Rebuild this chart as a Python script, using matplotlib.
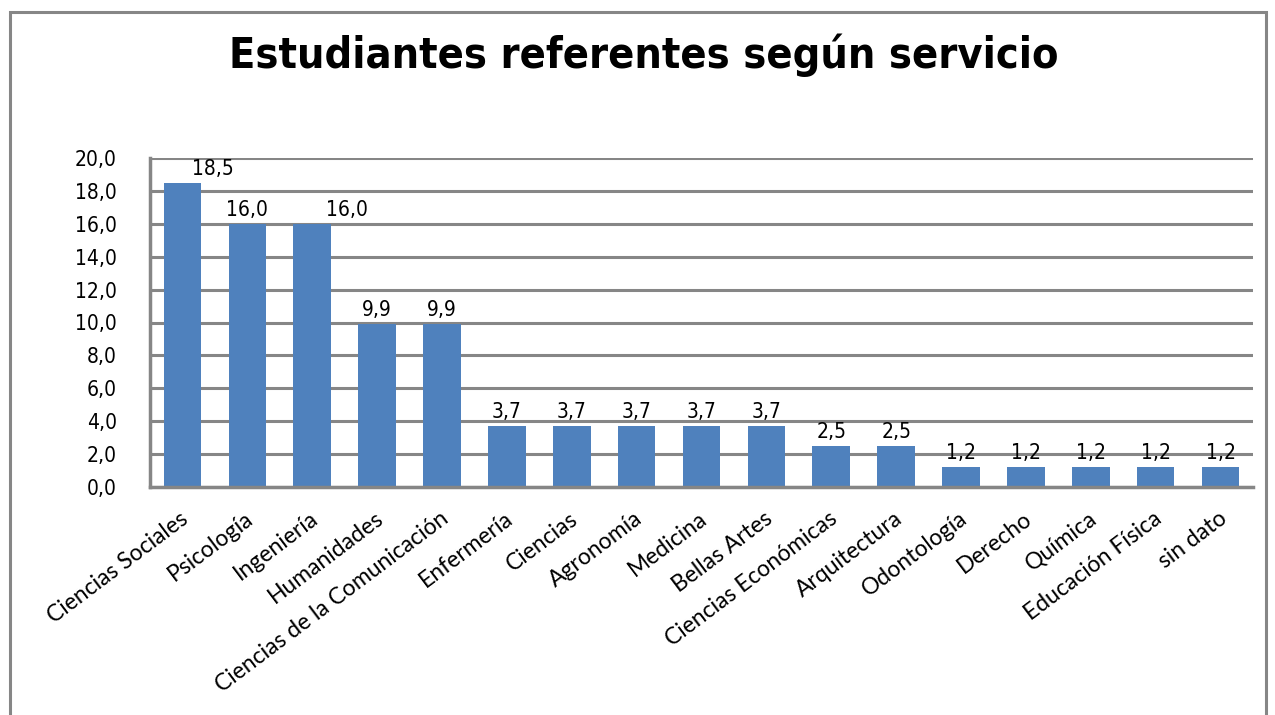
import matplotlib
matplotlib.use("Agg")
import matplotlib.pyplot as plt
from matplotlib.patches import Rectangle

categories = ["Ciencias Sociales", "Psicología", "Ingeniería", "Humanidades",
              "Ciencias de la Comunicación", "Enfermería", "Ciencias", "Agronomía",
              "Medicina", "Bellas Artes", "Ciencias Económicas", "Arquitectura",
              "Odontología", "Derecho", "Química", "Educación Física", "sin dato"]
values = [18.5, 16.0, 16.0, 9.9, 9.9, 3.7, 3.7, 3.7, 3.7, 3.7, 2.5, 2.5,
          1.2, 1.2, 1.2, 1.2, 1.2]
yticks = [0, 2, 4, 6, 8, 10, 12, 14, 16, 18, 20]
title = "Estudiantes referentes según servicio"

GRAY = "#868686"
BLUE = "#4F81BD"
cat_font = ["Lato", "Open Sans", "DejaVu Sans"]

fig = plt.figure(figsize=(12.75, 7.15), dpi=100)
fig.patch.set_facecolor("white")

# outer chart border
fig.add_artist(Rectangle((10 / 1275, -0.05), (1266 - 10) / 1275, 1.05 - 12 / 715,
                         transform=fig.transFigure, fill=False, edgecolor=GRAY,
                         linewidth=2.2))

ax = fig.add_axes([150 / 1275, 1 - 487 / 715, (1253 - 150) / 1275, (487 - 158) / 715])
x = list(range(len(categories)))
ax.bar(x, values, width=0.58, color=BLUE, zorder=3)
ax.set_xlim(-0.5, len(categories) - 0.5)
ax.set_ylim(0, 20)
ax.set_yticks(yticks)
ax.set_yticklabels([f"{v:.1f}".replace(".", ",") for v in yticks],
                   fontfamily="DejaVu Sans", fontstretch="condensed", fontsize=15)
ax.tick_params(axis="y", length=0, pad=24)
ax.yaxis.grid(True, color=GRAY, linewidth=2.2, zorder=1)
ax.set_axisbelow(True)
ax.set_xticks(x)
ax.set_xticklabels([])
ax.tick_params(axis="x", length=0)
for s in ["left", "bottom"]:
    ax.spines[s].set_color(GRAY)
    ax.spines[s].set_linewidth(2.5)
    ax.spines[s].set_zorder(4)
for s in ["top", "right"]:
    ax.spines[s].set_visible(False)

# category labels
for xi, lab in zip(x, categories):
    ax.annotate(lab, xy=(xi, 0), xycoords="data", xytext=(-2, -15),
                textcoords="offset points", rotation=37, rotation_mode="anchor",
                ha="right", va="top", fontsize=16.5, fontfamily=cat_font)

# value labels (Excel shifted two labels sideways to avoid overlap)
label_shift = {0: 22, 2: 25}
for i, (xi, v) in enumerate(zip(x, values)):
    ax.annotate(f"{v:.1f}".replace(".", ","), xy=(xi, v), xytext=(label_shift.get(i, 0), 3),
                textcoords="offset points", ha="center", va="bottom",
                fontsize=15, fontfamily="DejaVu Sans", fontstretch="condensed", zorder=5)

fig.text(0.505, 0.923, title, ha="center", va="center", fontsize=31,
         fontweight="bold", fontfamily="DejaVu Sans", fontstretch="condensed")

fig.savefig("out.png", dpi=100, facecolor="white")
